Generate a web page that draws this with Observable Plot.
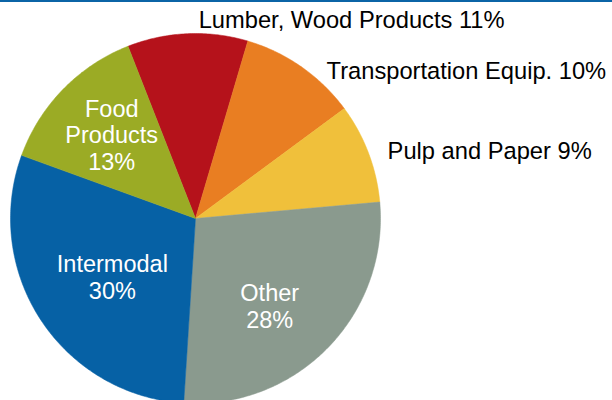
<!DOCTYPE html>
<html>
<head>
<meta charset="utf-8">
<script src="https://cdn.jsdelivr.net/npm/d3@7"></script>
<script src="https://cdn.jsdelivr.net/npm/@observablehq/plot@0.6"></script>
<style>
  html, body { margin: 0; padding: 0; background: #fff; }
  #wrap { position: relative; width: 612px; height: 400px; overflow: hidden; }
  #topline { position: absolute; left: 0; top: 0; width: 612px; height: 1.5px; background: #0b64a6; z-index: 2; }
  #chart { position: absolute; left: 0; top: 0; }
</style>
</head>
<body>
<div id="wrap"><div id="topline"></div><div id="chart"></div></div>
<script>
// ---- data (clockwise from the top) ----
const categories = ["Lumber, Wood Products", "Transportation Equip.", "Pulp and Paper", "Other", "Intermodal", "Food Products"];
const shares = [10.5, 10.3, 8.7, 27.4, 29.5, 13.5];           // slice sizes
const labelPercents = ["11%", "10%", "9%", "28%", "30%", "13%"]; // printed labels
const colors = ["#b5121b", "#e97e22", "#f0c03b", "#8a9a8e", "#0661a5", "#9bab25"];

// ---- label layout (not data) ----
const labelText = ["Lumber, Wood Products 11%", "Transportation Equip. 10%", "Pulp and Paper 9%", "Other\n28%", "Intermodal\n30%", "Food\nProducts\n13%"];
const labelInside = [false, false, false, true, true, true];
const labelAngleShift = [3.4, 6.8, 1.5, 5.4, -2.0, 0.7]; // degrees from slice mid-angle
const labelRadius = [1.07, 1.063, 1.10, 0.62, 0.55, 0.64];

const startDeg = -21.4;
const pie = d3.pie().sort(null).value(d => d.share)
  .startAngle(startDeg * Math.PI / 180)
  .endAngle(startDeg * Math.PI / 180 + 2 * Math.PI);

const table = categories.map((c, i) => ({category: c, share: shares[i], pct: labelPercents[i], color: colors[i]}));
const arcs = pie(table);

// polygon outline of each slice in unit-circle coordinates
const slicePts = [];
arcs.forEach((a, i) => {
  slicePts.push({slice: i, x: 0, y: 0});
  const n = Math.max(8, Math.ceil((a.endAngle - a.startAngle) * 90));
  for (let k = 0; k <= n; k++) {
    const t = a.startAngle + (a.endAngle - a.startAngle) * k / n;
    slicePts.push({slice: i, x: Math.sin(t), y: Math.cos(t)});
  }
  slicePts.push({slice: i, x: 0, y: 0});
});

const labels = arcs.map((a, i) => {
  const mid = (a.startAngle + a.endAngle) / 2 + labelAngleShift[i] * Math.PI / 180;
  const r = labelRadius[i];
  return {text: labelText[i], inside: labelInside[i], x: r * Math.sin(mid), y: r * Math.cos(mid)};
});

const R = 185;                 // pixel radius
const cx = 195, cy = 218;      // pixel centre
const W = 612, H = 400;

const chart = Plot.plot({
  width: W,
  height: H,
  marginLeft: cx - R,
  marginRight: W - (cx + R),
  marginTop: cy - R,
  marginBottom: 0,
  x: {domain: [-1, 1], axis: null},
  y: {domain: [-(H - cy) / R, 1], axis: null},
  style: {fontFamily: "'Liberation Sans', Arial, sans-serif", background: "transparent", overflow: "visible"},
  marks: [
    Plot.line(slicePts, {
      x: "x", y: "y", z: "slice",
      fill: d => colors[d.slice],
      stroke: d => colors[d.slice],
      strokeWidth: 0.5,
      curve: "linear",
      clip: false
    }),
    Plot.text(labels.filter(d => d.inside), {
      x: "x", y: "y", text: "text",
      fill: "white", fontSize: 23.5, lineHeight: 1.14,
      textAnchor: "middle", lineAnchor: "middle"
    }),
    Plot.text(labels.filter(d => !d.inside), {
      x: "x", y: "y", text: "text",
      fill: "#000", fontSize: 23.7,
      textAnchor: "start", lineAnchor: "middle"
    })
  ]
});
document.getElementById("chart").appendChild(chart);
</script>
</body>
</html>
